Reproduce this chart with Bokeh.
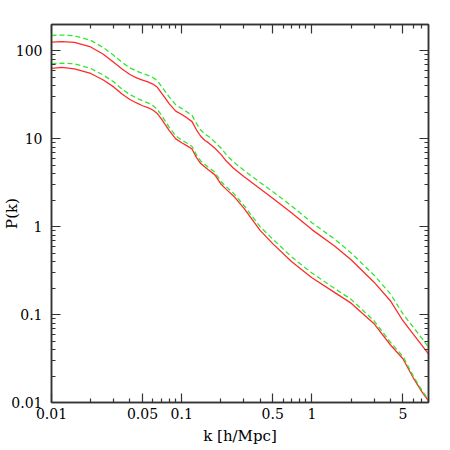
from bokeh.plotting import figure
from bokeh.models import LogAxis, FixedTicker, Range1d, CustomJSTickFormatter
from bokeh.embed import file_html
from bokeh.resources import INLINE

# wavenumber grid [h/Mpc]
k = [0.01, 0.012, 0.015, 0.02, 0.025, 0.03, 0.035, 0.04, 0.045, 0.05, 0.055, 0.06,
     0.065, 0.07, 0.075, 0.08, 0.09, 0.1, 0.11, 0.12, 0.13, 0.14, 0.15, 0.16, 0.18,
     0.2, 0.22, 0.25, 0.3, 0.4, 0.5, 0.7, 1.0, 1.5, 2.0, 3.0, 4.0, 5.0, 6.0, 7.0, 7.9]

# upper pair
red_hi = [126.0, 127.6, 125.0, 111.1, 91.7, 74.3, 61.9, 54.0, 49.5, 46.6, 44.4, 42.0,
          38.6, 33.2, 28.8, 25.2, 20.7, 18.9, 17.3, 15.7, 12.6, 10.7, 9.64, 9.05, 7.80,
          6.66, 5.59, 4.63, 3.72, 2.70, 2.11, 1.43, 0.927, 0.601, 0.420, 0.234, 0.144,
          0.0852, 0.0600, 0.0447, 0.0352]
green_hi = [150.0, 151.8, 148.8, 132.2, 109.1, 89.2, 73.7, 64.3, 58.9, 55.5, 52.8, 50.0,
            46.0, 39.5, 34.3, 30.0, 24.4, 22.1, 20.2, 18.5, 14.9, 12.6, 11.4, 10.7, 9.20,
            7.86, 6.60, 5.46, 4.39, 3.19, 2.51, 1.72, 1.112, 0.721, 0.504, 0.281, 0.173,
            0.102, 0.072, 0.0536, 0.0422]

# lower pair
red_lo = [63.2, 64.9, 62.7, 55.4, 46.7, 39.0, 32.1, 28.0, 25.6, 23.8, 22.7, 21.3,
          19.4, 16.8, 14.4, 12.5, 10.0, 9.03, 8.32, 7.65, 6.12, 5.23, 4.80, 4.45, 3.89,
          3.06, 2.66, 2.24, 1.63, 0.910, 0.642, 0.400, 0.263, 0.178, 0.135, 0.0788,
          0.0454, 0.0315, 0.0191, 0.0132, 0.0103]
green_lo = [71.5, 72.5, 71.5, 63.2, 53.2, 44.5, 36.6, 31.9, 29.2, 27.1, 25.7, 23.9,
            21.6, 18.5, 15.8, 13.6, 10.8, 9.70, 8.90, 8.19, 6.55, 5.60, 5.14, 4.76, 4.16,
            3.27, 2.85, 2.40, 1.75, 1.00, 0.725, 0.452, 0.297, 0.198, 0.149, 0.0851,
            0.0486, 0.0334, 0.0201, 0.0137, 0.0106]

x_major = [0.01, 0.05, 0.1, 0.5, 1, 5]
x_major_labels = ["0.01", "0.05", "0.1", "0.5", "1", "5"]
x_minor = [0.02, 0.03, 0.04, 0.06, 0.07, 0.08, 0.09, 0.2, 0.3, 0.4, 0.6, 0.7, 0.8,
           0.9, 2, 3, 4, 6, 7]
y_major = [0.01, 0.1, 1, 10, 100]
y_major_labels = ["0.01", "0.1", "1", "10", "100"]
y_minor = [0.02, 0.03, 0.04, 0.05, 0.06, 0.07, 0.08, 0.09,
           0.2, 0.3, 0.4, 0.5, 0.6, 0.7, 0.8, 0.9,
           2, 3, 4, 5, 6, 7, 8, 9,
           20, 30, 40, 50, 60, 70, 80, 90, 200]

FONT = "DejaVu Serif"
AX = "#333333"

p = figure(x_axis_type="log", y_axis_type="log",
           x_range=Range1d(0.01, 7.86), y_range=Range1d(0.01, 200),
           frame_width=377, frame_height=378,
           min_border_left=49, min_border_top=24, min_border_right=22, min_border_bottom=4,
           output_backend="svg", toolbar_location=None)
p.grid.visible = False
p.outline_line_color = AX
p.outline_line_width = 1.5
p.background_fill_color = "white"
p.border_fill_color = "white"

p.line(k, red_hi, line_color="#ff2b2b", line_width=1.3)
p.line(k, red_lo, line_color="#ff2b2b", line_width=1.3)
p.line(k, green_hi, line_color="#2fe82f", line_width=1.3, line_dash="5 3")
p.line(k, green_lo, line_color="#2fe82f", line_width=1.3, line_dash="5 3")


def style(ax, major, labels, minor, show):
    ax.ticker = FixedTicker(ticks=major, minor_ticks=minor)
    ax.major_tick_in = 9
    ax.major_tick_out = 0
    ax.minor_tick_in = 4
    ax.minor_tick_out = 0
    ax.axis_line_color = AX
    ax.axis_line_width = 1.5
    ax.major_tick_line_color = AX
    ax.minor_tick_line_color = AX
    ax.major_tick_line_width = 1.2
    ax.minor_tick_line_width = 1.2
    ax.major_label_text_font = FONT
    ax.major_label_text_color = "black"
    ax.major_label_text_font_size = "14px"
    ax.axis_label_text_font = FONT
    ax.axis_label_text_font_style = "normal"
    ax.axis_label_text_color = "black"
    if show:
        ax.major_label_overrides = dict(zip(major, labels))
    else:
        ax.formatter = CustomJSTickFormatter(code="return ''")
        ax.major_label_standoff = 0


xb = p.xaxis[0]
style(xb, x_major, x_major_labels, x_minor, True)
xb.axis_label = "k [h/Mpc]"
xb.axis_label_text_font_size = "15px"
xb.major_label_standoff = 5
xb.axis_label_standoff = 5

yl = p.yaxis[0]
style(yl, y_major, y_major_labels, y_minor, True)
yl.axis_label = "P(k)"
yl.axis_label_text_font_size = "15px"
yl.major_label_standoff = 9
yl.axis_label_standoff = -13
yl.major_label_orientation = "horizontal"

xt = LogAxis()
style(xt, x_major, x_major_labels, x_minor, False)
p.add_layout(xt, "above")

yr = LogAxis()
style(yr, y_major, y_major_labels, y_minor, False)
p.add_layout(yr, "right")

open("out.html", "w").write(file_html(p, INLINE))
